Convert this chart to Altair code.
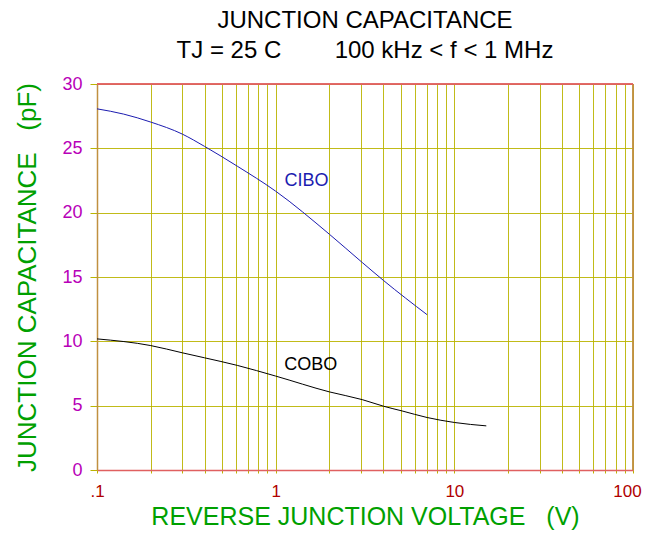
import altair as alt
import pandas as pd

# ---- data ----
cibo_v = [0.1, 0.141, 0.2, 0.3, 0.4, 0.61, 1.0, 2.0, 3.05, 4.03, 7.04]
cibo_c = [28.07, 27.66, 27.04, 26.11, 25.15, 23.61, 21.67, 18.32, 16.13, 14.71, 12.07]
cobo_v = [0.1, 0.2, 0.3, 0.4, 0.61, 1.0, 2.0, 3.05, 4.03, 5.1, 7.04, 10.05, 15.1]
cobo_c = [10.19, 9.67, 9.11, 8.72, 8.13, 7.30, 6.07, 5.47, 4.95, 4.59, 4.08, 3.69, 3.43]
series_names = ["CIBO", "COBO"]
series_colors = ["#1c1cb0", "#000000"]
label_v = [1.49, 1.57]
label_c = [22.45, 8.17]
x_ticks = [0.1, 0.2, 0.3, 0.4, 0.5, 0.6, 0.7, 0.8, 0.9,
           1, 2, 3, 4, 5, 6, 7, 8, 9,
           10, 20, 30, 40, 50, 60, 70, 80, 90, 100]
y_ticks = [0, 5, 10, 15, 20, 25, 30]

NB = "\u00a0"
title_lines = ["JUNCTION CAPACITANCE", "TJ = 25 C" + NB * 8 + "100 kHz < f < 1 MHz"]
x_title = "REVERSE JUNCTION VOLTAGE" + NB * 3 + "(V)"
y_title = "JUNCTION CAPACITANCE" + NB * 3 + "(pF)"

df = pd.DataFrame(
    {"V": cibo_v + cobo_v,
     "C": cibo_c + cobo_c,
     "series": ["CIBO"] * len(cibo_v) + ["COBO"] * len(cobo_v)}
)
lab = pd.DataFrame({"V": label_v, "C": label_c, "series": series_names})

GRID = "#bab400"
FONT = "Liberation Sans"
W = 536
H = 386

xenc = alt.X(
    "V:Q",
    scale=alt.Scale(type="log", domain=[0.1, 100], nice=False),
    axis=alt.Axis(
        values=x_ticks,
        labelExpr="datum.value == 0.1 ? '.1' : datum.value == 1 ? '1' : datum.value == 10 ? '10' : datum.value == 100 ? '100' : ''",
        labelOverlap=False,
        labelFlush=False,
        labelOffset={"condition": {"test": "datum.value == 100", "value": -6}, "value": 0},
        labelColor="#b00000",
        labelFontSize=17,
        labelFont=FONT,
        labelPadding=10,
        tickSize=3,
        tickColor=GRID,
        grid=True,
        gridColor=GRID,
        gridOpacity=0.9,
        domainColor="#e06060",
        domainWidth=1.5,
        title=x_title,
        titleColor="#00a000",
        titleFontSize=25,
        titleFont=FONT,
        titleFontWeight="normal",
        titlePadding=5,
    ),
)
yenc = alt.Y(
    "C:Q",
    scale=alt.Scale(domain=[0, 30], nice=False),
    axis=alt.Axis(
        values=y_ticks,
        labelColor="#b800b8",
        labelFontSize=18,
        labelFont=FONT,
        labelPadding=8,
        tickSize=7,
        tickColor=GRID,
        grid=True,
        gridColor=GRID,
        gridOpacity=0.9,
        domainColor="#c09040",
        domainWidth=1.5,
        title=y_title,
        titleColor="#00a000",
        titleFontSize=26,
        titleFont=FONT,
        titleFontWeight="normal",
        titlePadding=21,
    ),
)
color = alt.Color("series:N", scale=alt.Scale(domain=series_names, range=series_colors), legend=None)

lines = alt.Chart(df).mark_line(strokeWidth=1, interpolate="monotone").encode(
    x=xenc, y=yenc, color=color, detail="series:N"
)
labels = alt.Chart(lab).mark_text(fontSize=18, font=FONT, align="center", baseline="middle").encode(
    x="V:Q", y="C:Q", text="series:N", color=color
)
right_border = alt.Chart(lab).mark_rule(color="#c09040", strokeWidth=1.5).encode(
    x=alt.value(W), y=alt.value(0), y2=alt.value(H)
)
top_border = alt.Chart(lab).mark_rule(color="#e06060", strokeWidth=1.5).encode(
    x=alt.value(0), x2=alt.value(W), y=alt.value(0)
)

chart = (
    alt.layer(lines, labels, right_border, top_border)
    .properties(
        width=W,
        height=H,
        autosize=alt.AutoSizeParams(type="none"),
        padding={"left": 89, "top": 76, "right": 10, "bottom": 62},
        title=alt.TitleParams(
            text=title_lines,
            fontSize=24,
            font=FONT,
            fontWeight="normal",
            color="#000000",
            anchor="middle",
            lineHeight=30,
            offset=12,
        ),
    )
    .configure_view(stroke=None)
    .configure(background="#ffffff")
)

chart.save("out.html", embed_options={"renderer": "svg", "actions": False})
